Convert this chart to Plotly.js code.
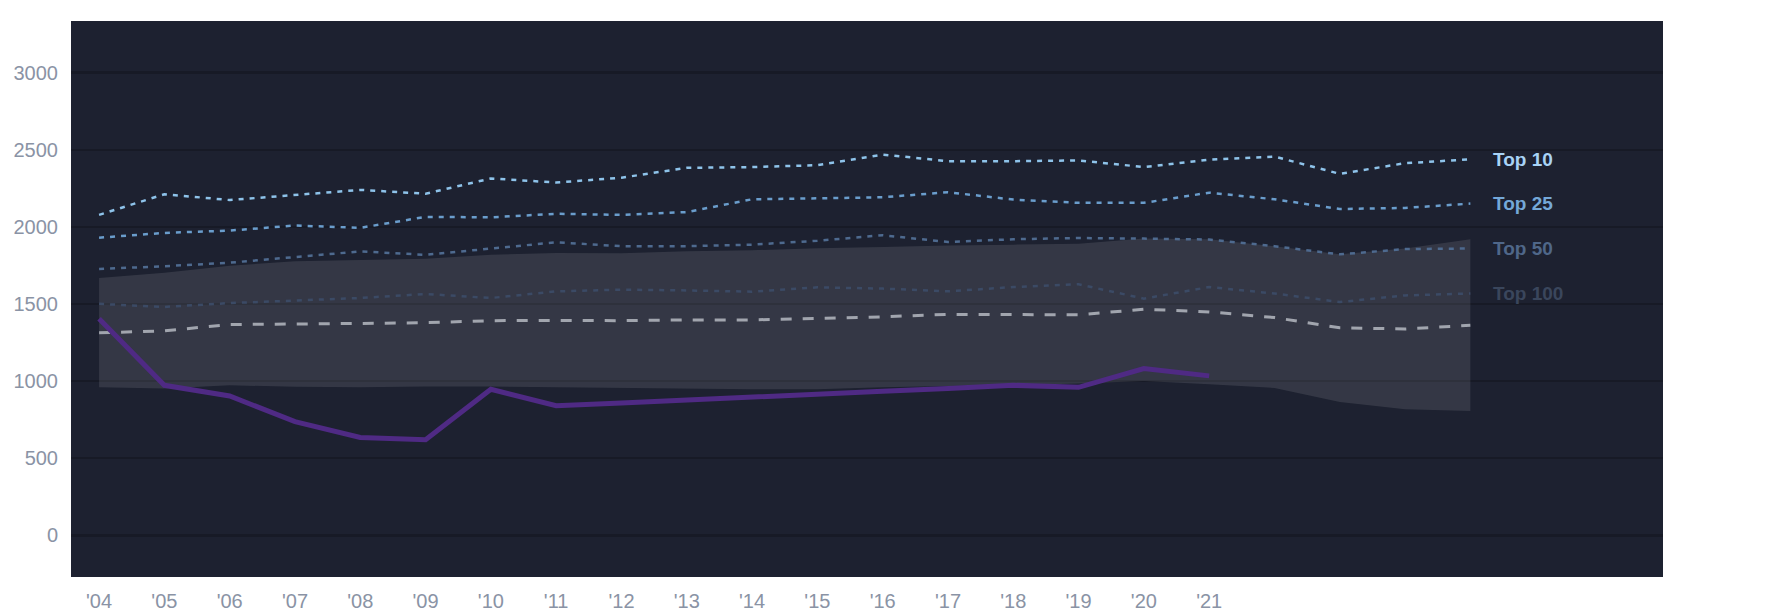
<!DOCTYPE html>
<html>
<head>
<meta charset="utf-8">
<script src="https://cdn.plot.ly/plotly-3.0.1.min.js"></script>
<style>
  html, body { margin: 0; padding: 0; background: #ffffff; }
  #chart { width: 1785px; height: 614px; }
</style>
</head>
<body>
<div id="chart"></div>
<script>
// seasons on the x axis
var years = [2004, 2005, 2006, 2007, 2008, 2009, 2010, 2011, 2012, 2013, 2014,
             2015, 2016, 2017, 2018, 2019, 2020, 2021, 2022, 2023, 2024, 2025];
var tickYears = [2004, 2005, 2006, 2007, 2008, 2009, 2010, 2011, 2012, 2013, 2014,
                 2015, 2016, 2017, 2018, 2019, 2020, 2021];
var tickLabels = ["'04", "'05", "'06", "'07", "'08", "'09", "'10", "'11", "'12", "'13", "'14",
                  "'15", "'16", "'17", "'18", "'19", "'20", "'21"];

// rank thresholds
var top10 = [2078, 2212, 2174, 2207, 2240, 2215, 2314, 2288, 2319, 2383, 2388,
             2400, 2469, 2426, 2426, 2431, 2388, 2436, 2456, 2344, 2413, 2438];
var top25 = [1930, 1961, 1976, 2009, 1994, 2065, 2062, 2085, 2078, 2096, 2179,
             2187, 2192, 2225, 2177, 2156, 2156, 2222, 2179, 2116, 2123, 2151];
var top50 = [1727, 1745, 1768, 1803, 1841, 1819, 1859, 1900, 1875, 1875, 1885,
             1910, 1946, 1902, 1920, 1928, 1924, 1918, 1875, 1822, 1856, 1860];
var top100 = [1501, 1481, 1506, 1524, 1539, 1565, 1539, 1582, 1593, 1588, 1580,
              1608, 1600, 1582, 1610, 1628, 1535, 1610, 1568, 1513, 1556, 1568];
var median = [1313, 1326, 1367, 1369, 1374, 1379, 1392, 1394, 1392, 1397, 1397,
              1407, 1417, 1433, 1430, 1430, 1466, 1449, 1412, 1346, 1338, 1362];

// shaded range
var bandHigh = [1669, 1702, 1748, 1778, 1786, 1793, 1819, 1831, 1829, 1842, 1849,
                1862, 1869, 1880, 1885, 1890, 1925, 1920, 1875, 1822, 1860, 1920];
var bandLow = [960, 952, 973, 963, 960, 965, 965, 960, 955, 952, 947,
               947, 960, 968, 973, 985, 1001, 980, 956, 865, 818, 807];

// highlighted series (2004-2021)
var playerYears = years.slice(0, 18);
var player = [1405, 973, 904, 737, 635, 620, 947, 841, 858, 879, 897,
              914, 935, 952, 973, 960, 1082, 1034];

var labelNames = ['Top 10', 'Top 25', 'Top 50', 'Top 100'];
var labelSeries = [top10, top25, top50, top100];
var lineColors = ['#8ec3ea', '#6a9dcc', '#4e6a8f', '#3b4a65'];
var labelColors = ['#a8d3f6', '#74a8d8', '#4f6789', '#3a465c'];

var data = [
    {x: years, y: bandLow, type: 'scatter', mode: 'lines',
     line: {width: 0, color: 'rgba(0,0,0,0)'}, hoverinfo: 'skip'},
    {x: years, y: bandHigh, type: 'scatter', mode: 'lines', fill: 'tonexty',
     fillcolor: 'rgba(255,255,255,0.1)', line: {width: 0, color: 'rgba(0,0,0,0)'}, hoverinfo: 'skip'},
    {x: years, y: median, type: 'scatter', mode: 'lines',
     line: {color: '#a1a5ae', width: 3, dash: '11px,11px'}}
];

for (var i = labelSeries.length - 1; i >= 0; i--) {
    data.push({x: years, y: labelSeries[i], type: 'scatter', mode: 'lines',
               line: {color: lineColors[i], width: 2.5, dash: '5px,6px'}});
}

data.push({x: playerYears, y: player, type: 'scatter', mode: 'lines',
           line: {color: '#4f2a84', width: 5}});

var annotations = labelNames.map(function (name, i) {
    var s = labelSeries[i];
    return {
        x: years[years.length - 1], y: s[s.length - 1],
        xanchor: 'left', yanchor: 'middle', xshift: 21,
        text: '<b>' + name + '</b>', showarrow: false,
        font: {family: 'Liberation Sans, Arial, sans-serif', size: 19, color: labelColors[i]}
    };
});

var layout = {
    width: 1785,
    height: 614,
    margin: {l: 71, r: 122, t: 21, b: 37},
    paper_bgcolor: '#ffffff',
    plot_bgcolor: '#1d2130',
    showlegend: false,
    hovermode: false,
    font: {family: 'Liberation Sans, Arial, sans-serif', size: 20, color: '#8a93a5'},
    xaxis: {
        range: [2003.57, 2027.95],
        tickvals: tickYears,
        ticktext: tickLabels,
        showgrid: false,
        zeroline: false,
        showline: false,
        ticks: '',
        ticklabelstandoff: 10
    },
    yaxis: {
        range: [-270, 3335],
        tickvals: [0, 500, 1000, 1500, 2000, 2500, 3000],
        gridcolor: '#171a26',
        gridwidth: 2.5,
        zeroline: false,
        showline: false,
        ticks: '',
        ticklabelstandoff: 12
    },
    annotations: annotations
};

Plotly.newPlot('chart', data, layout, {displayModeBar: false, staticPlot: true});
</script>
</body>
</html>
